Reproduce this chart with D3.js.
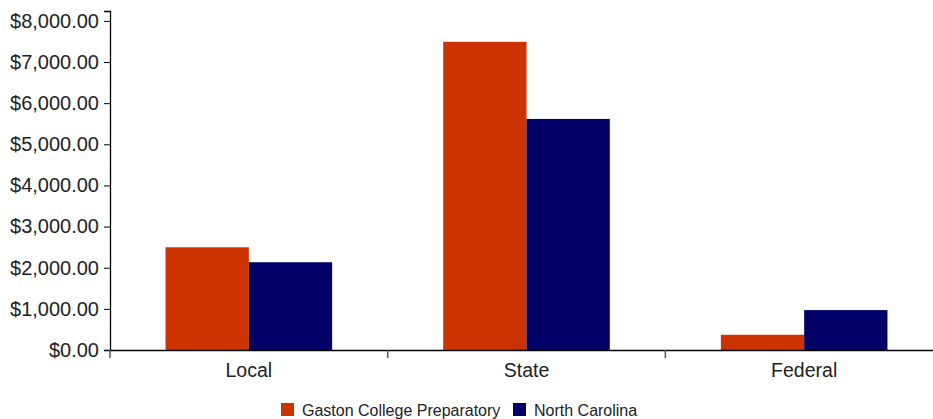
<!DOCTYPE html>
<html>
<head>
<meta charset="utf-8">
<script src="https://cdn.jsdelivr.net/npm/d3@7"></script>
<style>
  body { margin: 0; background: #fff; }
  svg { font-family: "Liberation Sans", Arial, Helvetica, sans-serif; }
  .axis text { fill: #222; }
</style>
</head>
<body>
<svg id="chart" width="933" height="419"></svg>
<script>
const categories = ["Local", "State", "Federal"];
const seriesNames = ["Gaston College Preparatory", "North Carolina"];
const gaston = [2497, 7491, 371];
const northCarolina = [2133, 5616, 970];
const yTicks = [0, 1000, 2000, 3000, 4000, 5000, 6000, 7000, 8000];

const colors = d3.scaleOrdinal().domain(seriesNames).range(["#cc3300", "#000066"]);

const margin = { top: 11, left: 110, bottom: 69 },
      width = 833,
      height = 419 - margin.top - margin.bottom;

const svg = d3.select("#chart")
  .append("g")
    .attr("transform", `translate(${margin.left},${margin.top})`);

const x0 = d3.scaleBand()
    .domain(categories)
    .range([0, width])
    .padding(0);

const x1 = d3.scaleBand()
    .domain(seriesNames)
    .range([x0.bandwidth() * 0.2, x0.bandwidth() * 0.8])
    .padding(0);

const y = d3.scaleLinear()
    .domain([0, d3.max(gaston.concat(northCarolina)) * 1.1])
    .range([height, 0]);

const rows = categories.map((c, i) => ({
  category: c,
  values: [
    { name: seriesNames[0], value: gaston[i] },
    { name: seriesNames[1], value: northCarolina[i] }
  ]
}));

const groups = svg.selectAll(".group")
  .data(rows)
  .enter().append("g")
    .attr("class", "group")
    .attr("transform", d => `translate(${x0(d.category)},0)`);

groups.selectAll("rect")
  .data(d => d.values)
  .enter().append("rect")
    .attr("x", d => x1(d.name))
    .attr("width", x1.bandwidth())
    .attr("y", d => y(d.value))
    .attr("height", d => height - y(d.value))
    .attr("fill", d => colors(d.name));

// y axis
const yAxis = svg.append("g")
    .attr("class", "axis")
    .call(d3.axisLeft(y).tickValues(yTicks).tickSize(6).tickPadding(5)
      .tickFormat(d => "$" + d3.format(",.2f")(d)));
yAxis.selectAll("text").style("font-size", "20px");
yAxis.select(".domain").attr("stroke", "#000").attr("stroke-width", 1.3);
yAxis.selectAll(".tick line").attr("stroke", "#000");

// x axis
const xAxis = svg.append("g")
    .attr("class", "axis")
    .attr("transform", `translate(0,${height})`)
    .call(d3.axisBottom(x0).tickSize(0).tickSizeOuter(0).tickPadding(13));
xAxis.selectAll("text").style("font-size", "19.5px");
xAxis.select(".domain").attr("stroke", "#000").attr("stroke-width", 1.5);

// boundary ticks between groups
xAxis.selectAll(".bound")
  .data(categories)
  .enter().append("line")
    .attr("class", "bound")
    .attr("x1", d => x0(d))
    .attr("x2", d => x0(d))
    .attr("y1", 0)
    .attr("y2", 8)
    .attr("stroke", "#555")
    .attr("stroke-width", 1.5);

// legend
const legendItems = [
  { name: seriesNames[0], x: 281 },
  { name: seriesNames[1], x: 513 }
];
const legend = d3.select("#chart").append("g");
const li = legend.selectAll("g")
  .data(legendItems)
  .enter().append("g")
    .attr("transform", d => `translate(${d.x},403)`);
li.append("rect")
    .attr("width", 13)
    .attr("height", 13)
    .attr("fill", d => colors(d.name));
li.append("text")
    .attr("x", 21)
    .attr("y", 12.5)
    .style("font-size", "16px")
    .attr("fill", "#222")
    .text(d => d.name);
</script>
</body>
</html>
